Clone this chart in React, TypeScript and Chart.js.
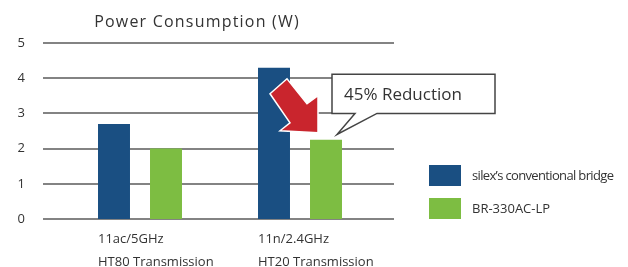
import React, { useEffect, useRef } from "react";
import { Chart, registerables } from "chart.js";

Chart.register(...registerables);

const categories: string[][] = [
  ["11ac/5GHz", "HT80 Transmission"],
  ["11n/2.4GHz", "HT20 Transmission"],
];
const seriesNames = ["silex\u2019s conventional bridge", "BR-330AC-LP"];
const conventional = [2.7, 4.3];
const br330 = [2.0, 2.25];
const yTicks = [0, 1, 2, 3, 4, 5];
const titleText = "Power Consumption (W)";
const calloutText = "45% Reduction";

const BLUE = "#1a4f82";
const GREEN = "#7dbd42";
const RED = "#c9252d";
const TEXT = "#333333";
const GRID = "#838383";
const FONT = "'Open Sans', 'Noto Sans', sans-serif";

const decor = {
  id: "decor",
  beforeDatasetsDraw(chart: any) {
    const { ctx, chartArea, scales } = chart;
    const y = scales.y;
    ctx.save();
    ctx.strokeStyle = GRID;
    ctx.lineWidth = 2;
    for (const v of yTicks) {
      const py = Math.round(y.getPixelForValue(v));
      ctx.beginPath();
      ctx.moveTo(chartArea.left - 17, py);
      ctx.lineTo(chartArea.right + 14, py);
      ctx.stroke();
    }
    ctx.restore();
  },
  afterDatasetsDraw(chart: any) {
    const { ctx, chartArea, scales } = chart;
    const x = scales.x;
    const y = scales.y;
    ctx.save();
    // title
    ctx.fillStyle = TEXT;
    ctx.font = `16px ${FONT}`;
    (ctx as any).letterSpacing = "1.2px";
    ctx.textAlign = "center";
    ctx.textBaseline = "middle";
    ctx.fillText(titleText, (chartArea.left + chartArea.right) / 2 - 23, 22);
    (ctx as any).letterSpacing = "0px";

    // category labels (left aligned at group start)
    ctx.font = `13px ${FONT}`;
    ctx.textAlign = "left";
    categories.forEach((lines, i) => {
      const px = x.getPixelForValue(i) - 42;
      lines.forEach((ln, j) => {
        ctx.fillText(ln, px, chartArea.bottom + 20 + j * 23);
      });
    });

    // legend
    const ds = chart.data.datasets;
    ds.forEach((d: any, i: number) => {
      const top = 165 + i * 33;
      ctx.fillStyle = d.backgroundColor;
      ctx.fillRect(chartArea.right + 49, top, 32, 21);
      ctx.fillStyle = TEXT;
      ctx.font = `13px ${FONT}`;
      (ctx as any).letterSpacing = i === 0 ? "-0.65px" : "0px";
      ctx.fillText(d.label, chartArea.right + 92, top + 11);
    });
    (ctx as any).letterSpacing = "0px";

    // arrow
    const xg = x.getPixelForValue(1);
    const tipX = xg + 18;
    const tipY = y.getPixelForValue(2.45);
    const pts = [
      [-48, -39],
      [-31, -54],
      [-11, -29],
      [0, -37],
      [0, 0],
      [-38, -2],
      [-28, -10],
    ];
    ctx.beginPath();
    pts.forEach(([dx, dy], k) => {
      if (k === 0) ctx.moveTo(tipX + dx, tipY + dy);
      else ctx.lineTo(tipX + dx, tipY + dy);
    });
    ctx.closePath();
    ctx.fillStyle = RED;
    ctx.fill();
    ctx.strokeStyle = "#ffffff";
    ctx.lineWidth = 1.5;
    ctx.stroke();

    // callout
    const bl = xg + 32;
    const br = xg + 195;
    const bt = y.getPixelForValue(4) - 4;
    const bb = y.getPixelForValue(3);
    ctx.beginPath();
    ctx.moveTo(bl, bt);
    ctx.lineTo(br, bt);
    ctx.lineTo(br, bb);
    ctx.lineTo(xg + 77, bb);
    ctx.lineTo(xg + 37, y.getPixelForValue(2.4));
    ctx.lineTo(xg + 55, bb);
    ctx.lineTo(bl, bb);
    ctx.closePath();
    ctx.fillStyle = "#ffffff";
    ctx.fill();
    ctx.strokeStyle = "#444444";
    ctx.lineWidth = 1.5;
    ctx.stroke();
    ctx.fillStyle = TEXT;
    ctx.font = `17px ${FONT}`;
    ctx.textAlign = "left";
    ctx.fillText(calloutText, bl + 12, (bt + bb) / 2 + 1);
    ctx.restore();
  },
};

export default function App() {
  const ref = useRef<HTMLCanvasElement | null>(null);
  useEffect(() => {
    document.body.style.margin = "0";
    const canvas = ref.current!;
    const chart = new Chart(canvas, {
      type: "bar",
      data: {
        labels: categories.map((c) => c.join(" ")),
        datasets: [
          { label: seriesNames[0], data: conventional, backgroundColor: BLUE },
          { label: seriesNames[1], data: br330, backgroundColor: GREEN },
        ],
      },
      options: {
        responsive: false,
        animation: false,
        devicePixelRatio: 1,
        layout: { padding: { left: 0, top: 43, right: 248, bottom: 48 } },
        datasets: {
          bar: { categoryPercentage: 0.65, barPercentage: 0.615 },
        },
        plugins: {
          legend: { display: false },
          title: { display: false },
          tooltip: { enabled: false },
        },
        scales: {
          x: { display: false },
          y: {
            min: 0,
            max: 5,
            grid: { display: false, drawTicks: false },
            border: { display: false },
            ticks: {
              stepSize: 1,
              padding: 35,
              color: TEXT,
              font: { family: FONT, size: 13 },
            },
            afterFit: (s: any) => {
              s.width = 60;
            },
          },
        },
      },
      plugins: [decor],
    });
    return () => chart.destroy();
  }, []);
  return <canvas ref={ref} width={628} height={267} style={{ display: "block" }} />;
}
